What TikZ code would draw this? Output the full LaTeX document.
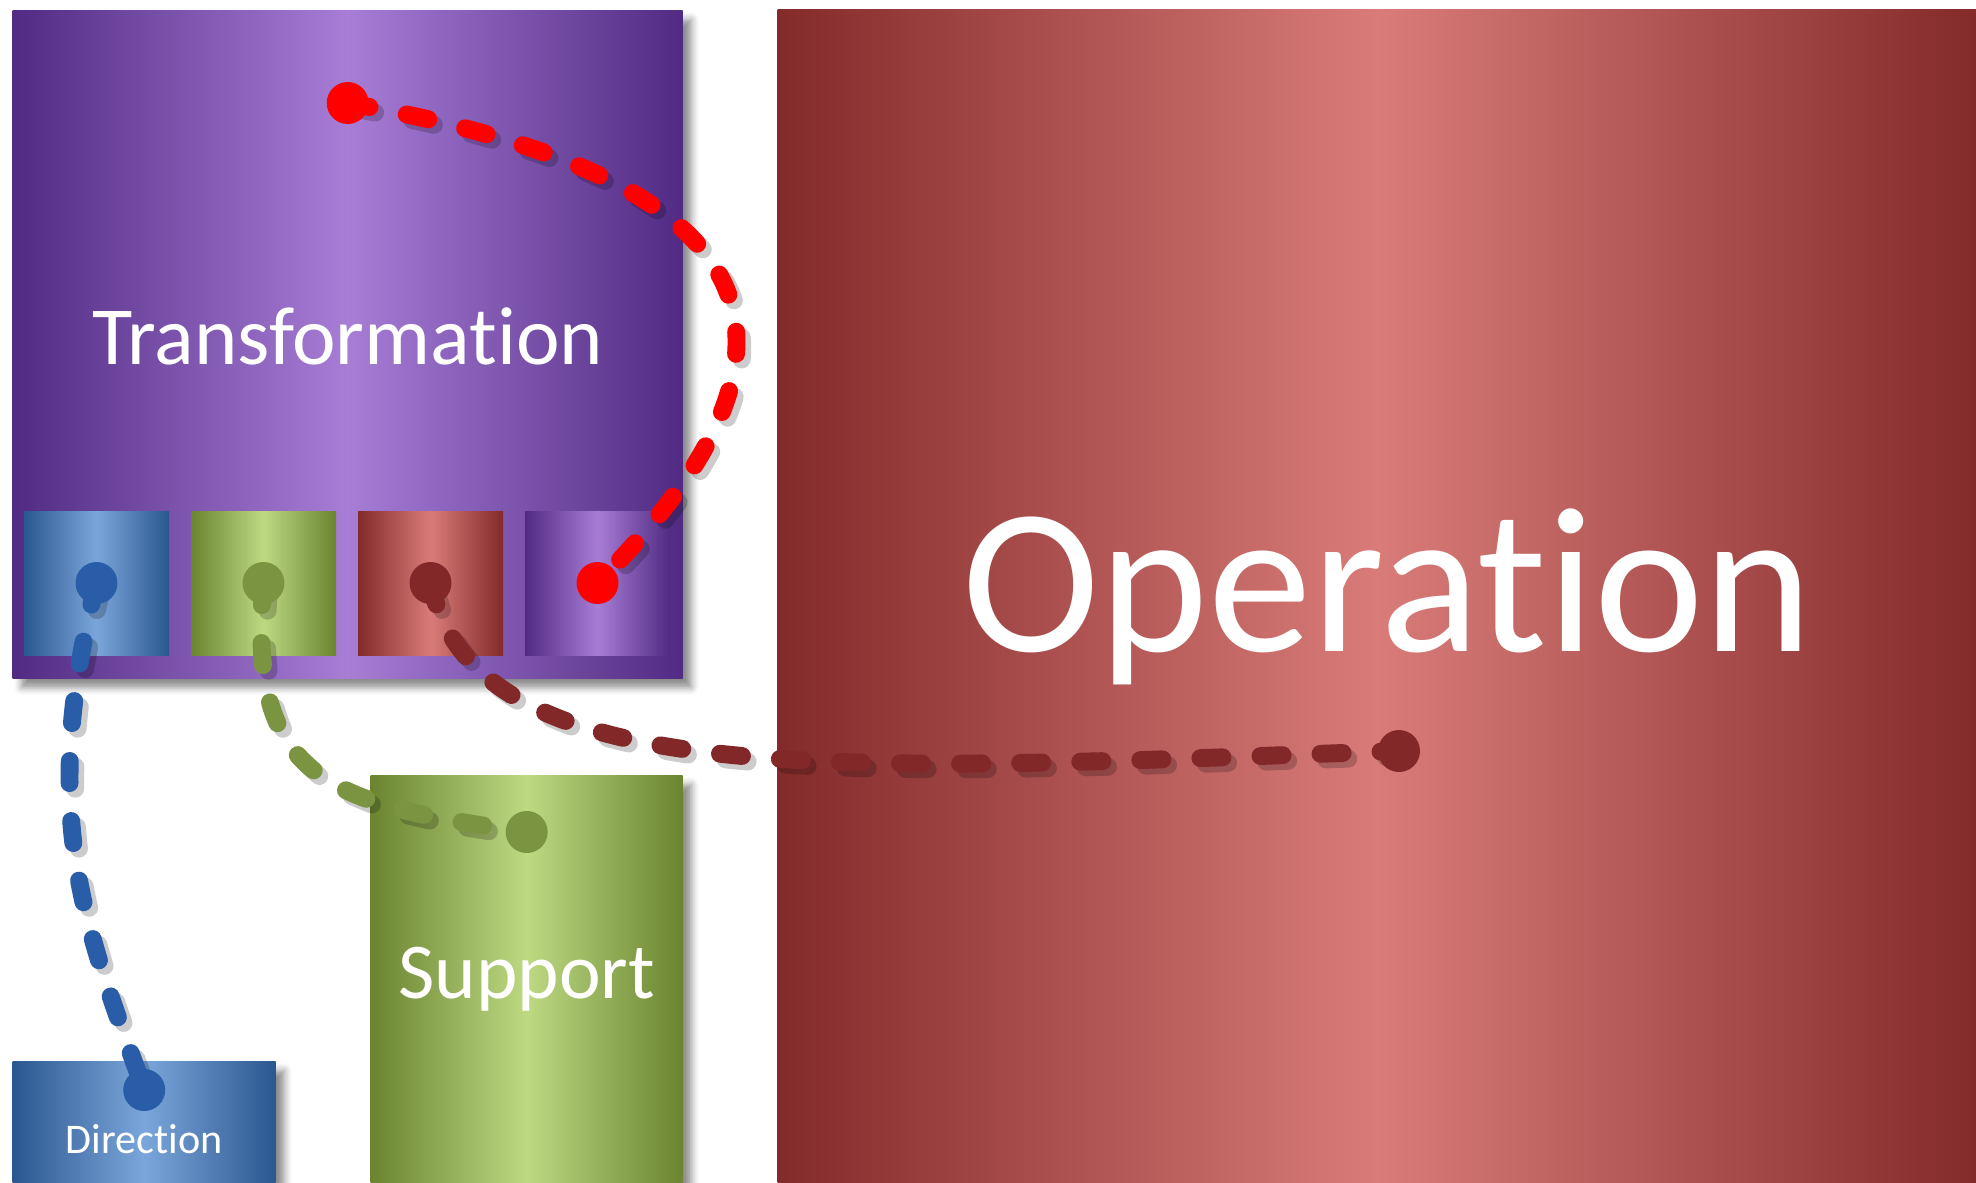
\documentclass[tikz,border=0pt]{standalone}
\usepackage{fontspec}
\setmainfont{Carlito}[Ligatures={NoCommon}]
\usepackage{tikz}
\usetikzlibrary{positioning, shadows.blur}

\definecolor{purpEdge}{HTML}{512B83}
\definecolor{purpMid}{HTML}{A77DD6}
\definecolor{blueEdge}{HTML}{2B5790}
\definecolor{blueMid}{HTML}{7BA6DB}
\definecolor{grnEdge}{HTML}{6A8430}
\definecolor{grnMid}{HTML}{BDD982}
\definecolor{redEdge}{HTML}{832A2A}
\definecolor{redMid}{HTML}{D97C79}
\definecolor{lkred}{HTML}{FF0000}
\definecolor{lkbrown}{HTML}{832828}
\definecolor{lkgreen}{HTML}{7A9442}
\definecolor{lkblue}{HTML}{2A5DA8}

\pgfdeclarelayer{front}
\pgfsetlayers{main,front}

\tikzset{
  dgbox/.style    = {rectangle, anchor=north west, inner sep=0pt, text=white,
                     blur shadow={shadow xshift=2.5pt, shadow yshift=-2.5pt,
                                  shadow blur radius=2pt, shadow opacity=45}},
  dgpurple/.style = {left color=purpEdge, right color=purpEdge, middle color=purpMid},
  dgblue/.style   = {left color=blueEdge, right color=blueEdge, middle color=blueMid},
  dggreen/.style  = {left color=grnEdge, right color=grnEdge, middle color=grnMid},
  dgred/.style    = {left color=redEdge, right color=redEdge, middle color=redMid},
  dgsub/.style    = {rectangle, inner sep=0pt, outer sep=0pt, minimum width=1.45cm,
                     minimum height=1.44cm},
  dgdot/.style    = {circle, inner sep=0pt, minimum size=0.42cm},
  dgdash/.style   = {line width=5.1pt, line cap=round,
                     dash pattern=on 6.3pt off 10.8pt},
  dglink/.style   = {dgdash,
                     preaction={dgdash, draw=black, opacity=0.2,
                                transform canvas={xshift=1.6pt, yshift=-1.6pt}}},
}

\begin{document}
\begin{tikzpicture}
  \useasboundingbox (0,0) rectangle (19.76,-11.83);

  % big blocks
  \node[dgbox, dgred, minimum width=12cm, minimum height=11.74cm,
        font=\fontsize{59pt}{64pt}\selectfont] (op) at (7.77,-0.09)
        {\hspace*{0.2cm}Operation};
  \node[dgbox, dgpurple, minimum width=6.70cm, minimum height=6.68cm,
        text depth=0.18cm,
        font=\fontsize{23.5pt}{28pt}\selectfont] (trans) at (0.12,-0.10) {Transformation};
  \node[dgbox, dgblue, minimum width=2.63cm, minimum height=1.21cm,
        text height=0.63cm, text depth=0pt,
        font=\fontsize{12pt}{14pt}\selectfont] (dir) at (0.12,-10.61) {Direction};
  \node[dgbox, dggreen, minimum width=3.12cm, minimum height=4.07cm,
        font=\fontsize{22.5pt}{26pt}\selectfont] (sup) at (3.70,-7.75) {Support};

  % the four small blocks inside Transformation
  \node[dgsub, dgblue, anchor=north west] (sdir) at (0.24,-5.11) {};
  \node[dgsub, dggreen, right=0.22cm of sdir] (ssup) {};
  \node[dgsub, dgred, right=0.22cm of ssup] (sop) {};
  \node[dgsub, dgpurple, right=0.22cm of sop] (strans) {};

  % end points, kept above the links
  \begin{pgfonlayer}{front}
    \node[dgdot, fill=lkred] (tstart) at ([yshift=-0.93cm]trans.north) {};
    \node[dgdot, fill=lkred] (tend) at (strans.center) {};
    \node[dgdot, fill=lkbrown] (ostart) at (sop.center) {};
    \node[dgdot, fill=lkbrown] (oend) at (13.99,-7.51) {};
    \node[dgdot, fill=lkgreen] (sstart) at (ssup.center) {};
    \node[dgdot, fill=lkgreen] (send) at ([yshift=-0.57cm]sup.north) {};
    \node[dgdot, fill=lkblue] (dstart) at (sdir.center) {};
    \node[dgdot, fill=lkblue] (dend) at ([yshift=-0.29cm]dir.north) {};
  \end{pgfonlayer}

  % links
  \draw[dglink, lkred] (tstart.center) to[out=-10, in=45, looseness=1.8] (tend.center);
  \draw[dglink, lkbrown] (ostart.center)
        to[out=-78, in=182, out looseness=0.57, in looseness=1.43] (oend.center);
  \draw[dglink, lkgreen] (sstart.center) to[out=-95, in=172, looseness=1.4] (send.center);
  \draw[dglink, lkblue] (dstart.center)
        to[out=-104, in=110, out looseness=1.2, in looseness=0.9] (dend.center);
\end{tikzpicture}
\end{document}
